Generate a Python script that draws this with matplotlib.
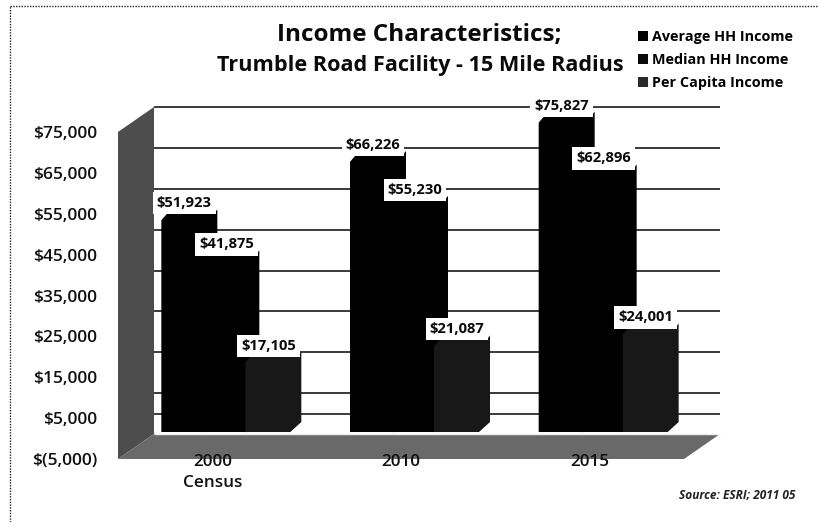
import matplotlib
matplotlib.use("Agg")
import matplotlib.pyplot as plt
from matplotlib.patches import Patch, Polygon
from matplotlib.lines import Line2D

plt.rcParams['font.family'] = ['Open Sans', 'DejaVu Sans']

years = ["2000\nCensus", "2010", "2015"]
avg_income = [51923, 66226, 75827]
median_income = [41875, 55230, 62896]
per_capita = [17105, 21087, 24001]
series_names = ["Average HH Income", "Median HH Income", "Per Capita Income"]
y_ticks = [-5000, 5000, 15000, 25000, 35000, 45000, 55000, 65000, 75000]
y_labels = ["$(5,000)", "$5,000", "$15,000", "$25,000", "$35,000",
            "$45,000", "$55,000", "$65,000", "$75,000"]

W, H = 820, 522
fig = plt.figure(figsize=(W / 100, H / 100), dpi=100)
ax = fig.add_axes([118 / W, (H - 459) / H, 566 / W, 327 / H])
ax.set_xlim(-0.5, 2.5)
ax.set_ylim(-5000, 75000)

# pixels to data units on the front plane
px_x = 3.0 / 566
px_y = 80000 / 327
depth_x = 36 * px_x
depth_y = 25 * px_y

# side wall and floor of the box
ax.add_patch(Polygon([(-0.5, 75000), (-0.5 + depth_x, 75000 + depth_y),
                      (-0.5 + depth_x, -5000 + depth_y), (-0.5, -5000)],
                     fc="#4d4d4d", ec="none", clip_on=False, zorder=1))
ax.add_patch(Polygon([(-0.5, -5000), (-0.5 + depth_x, -5000 + depth_y),
                      (2.5 + depth_x, -5000 + depth_y), (2.5, -5000)],
                     fc="#696969", ec="none", clip_on=False, zorder=1))

# back wall gridlines, plus the zero line
grid_vals = y_ticks[1:] + [0]
ax.hlines([v + depth_y for v in grid_vals], -0.5 + depth_x, 2.5 + depth_x,
          color="#2b2b2b", lw=1.3, clip_on=False, zorder=1.2)
# pale edge where the floor meets the back wall
ax.hlines(-5000 + depth_y, -0.5 + depth_x, 2.5 + depth_x, color="#eeeeee", lw=1,
          clip_on=False, zorder=1.3)


def draw_bar(center, value, color, z):
    # chamfered box standing half way into the depth of the chart
    left = center - 9 * px_x
    right = left + 56 * px_x
    top = value + 13 * px_y
    base = 1600
    pts = [(left, base),
           (right - 11 * px_x, base),
           (right, base + 10 * px_y),
           (right, top + 4 * px_y),
           (right - 3 * px_x, top),
           (left + 6 * px_x, top),
           (left, top - 7 * px_y)]
    ax.add_patch(Polygon(pts, fc=color, ec="none", clip_on=False, zorder=z))
    ax.text(right - 33 * px_x, top + 10 * px_y, f"${value:,}",
            ha="center", va="center", fontsize=10.6, fontweight="bold", color="#0a0a0a",
            bbox=dict(fc="white", ec="none", pad=3.0), zorder=z + 0.5, clip_on=False)


colors = ["#000000", "#000000", "#181818"]
step = 42 * px_x
for i in range(len(years)):
    draw_bar(i - step, avg_income[i], colors[0], 2)
    draw_bar(i, median_income[i], colors[1], 3)
    draw_bar(i + step, per_capita[i], colors[2], 4)

ax.set_xticks(range(len(years)))
ax.set_xticklabels(years, fontsize=12.3, fontweight="semibold", color="#111111", linespacing=1.4)
ax.set_yticks(y_ticks)
ax.set_yticklabels(y_labels, fontsize=12.5, fontweight="semibold", color="#111111")
ax.tick_params(axis="x", length=0, pad=-3.5)
ax.tick_params(axis="y", length=0, pad=15)
for s in ax.spines.values():
    s.set_visible(False)
ax.patch.set_visible(False)

fig.text(419 / W, 1 - 35 / H, "Income Characteristics;", ha="center", va="center",
         fontsize=17.5, fontweight="bold", color="#0a0a0a")
fig.text(420 / W, 1 - 66 / H, "Trumble Road Facility - 15 Mile Radius", ha="center", va="center",
         fontsize=15.6, fontweight="bold", color="#0a0a0a")

handles = [Patch(fc=c, ec="none") for c in ["#000000", "#0a0a0a", "#2a2a2a"]]
fig.legend(handles, series_names, loc="upper left", bbox_to_anchor=(638 / W, 1 - 30 / H),
           frameon=False, prop=dict(family="Open Sans", weight="bold", size=10.4),
           handlelength=0.7, handleheight=0.7, handletextpad=0.3, labelspacing=0.62,
           borderpad=0, borderaxespad=0)

fig.text(795 / W, 1 - 495 / H, "Source: ESRI; 2011 05", ha="right", va="center",
         fontsize=8.6, fontstyle="italic", fontweight="bold", color="#222222")

# dotted page frame on the top and left
fig.add_artist(Line2D([10 / W, 1], [1 - 6 / H, 1 - 6 / H], color="#222222", lw=1, ls=(0, (1, 1))))
fig.add_artist(Line2D([10 / W, 10 / W], [0, 1 - 6 / H], color="#222222", lw=1, ls=(0, (1, 1))))

fig.savefig("out.png", dpi=100)
